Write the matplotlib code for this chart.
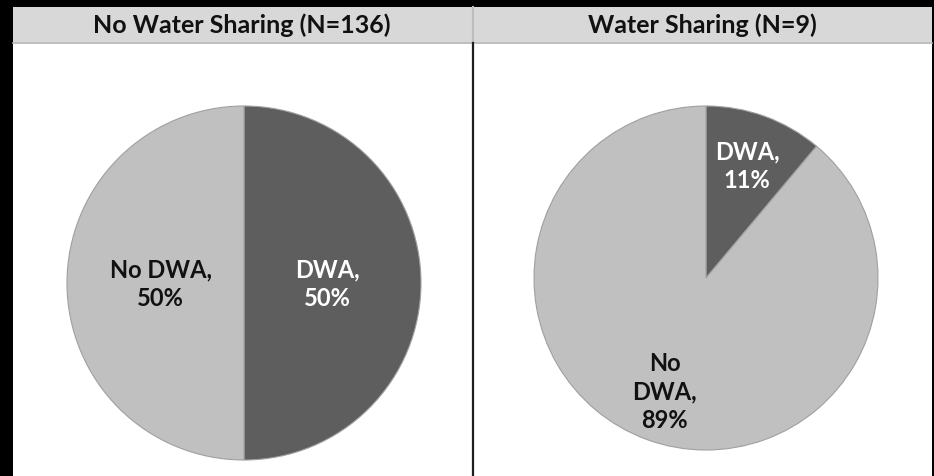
import matplotlib.pyplot as plt
from matplotlib.patches import Rectangle
from matplotlib.lines import Line2D

# survey counts per group
titles = ["No Water Sharing (N=136)", "Water Sharing (N=9)"]
categories = ["DWA", "No DWA"]
no_sharing = [68, 68]
sharing = [1, 8]

W, H = 934, 477
fig = plt.figure(figsize=(W / 100, H / 100), dpi=100, facecolor="black")
plt.rcParams['font.family'] = ['Lato', 'DejaVu Sans']


def px(x, y, w, h):
    # pixel box (top-left origin) -> figure fraction
    return [x / W, 1 - (y + h) / H, w / W, h / H]


# white panel and grey header band
fig.patches.append(Rectangle((13 / W, 0), 919 / W, 469 / H, transform=fig.transFigure,
                             facecolor="white", edgecolor="none", zorder=-3))
fig.patches.append(Rectangle((13 / W, 1 - 43 / H), 919 / W, 35 / H, transform=fig.transFigure,
                             facecolor="#d8d8d8", edgecolor="none", zorder=-2))
fig.lines.append(Line2D([13 / W, 932 / W], [1 - 43.5 / H] * 2, transform=fig.transFigure,
                        color="#b4b4b4", lw=1.2, zorder=-1))
# divider between the two panels
fig.lines.append(Line2D([473 / W] * 2, [1 - 8 / H, 1 - 44 / H], transform=fig.transFigure,
                        color="#bdbdbd", lw=1.5, zorder=-1))
fig.lines.append(Line2D([473 / W] * 2, [0, 1 - 44 / H], transform=fig.transFigure,
                        color="#1e1e1e", lw=1.6, zorder=-1))

fig.text(242 / W, 1 - 25 / H, titles[0], ha="center", va="center",
         fontsize=18, fontweight="bold", color="#111111")
fig.text(702 / W, 1 - 25 / H, titles[1], ha="center", va="center",
         fontsize=18, fontweight="bold", color="#111111")

colors = ["#5e5e5e", "#c0c0c0"]
text_colors = ["white", "#111111"]


def draw_pie(box, values, label_fmt, dist):
    ax = fig.add_axes(box)
    total = sum(values)
    labels = [label_fmt[i].format(round(100 * v / total)) for i, v in enumerate(values)]
    wedges, texts = ax.pie(values, colors=colors, startangle=90, counterclock=False,
                           labels=labels, labeldistance=dist,
                           wedgeprops=dict(edgecolor="#a0a0a0", linewidth=0.8),
                           textprops=dict(ha="center", va="center", fontsize=17,
                                          fontweight="bold", linespacing=1.3))
    for t, c in zip(texts, text_colors):
        t.set_color(c)
    ax.set_xlim(-1, 1)
    ax.set_ylim(-1, 1)
    ax.set_aspect("equal")
    ax.axis("off")


draw_pie(px(67, 107, 354, 354), no_sharing, ["DWA,\n{}%", "No DWA,\n{}%"], 0.47)
draw_pie(px(534, 107, 344, 344), sharing, ["DWA,\n{}%", "No\nDWA,\n{}%"], 0.7)

fig.savefig("out.png", dpi=100, facecolor="black")
